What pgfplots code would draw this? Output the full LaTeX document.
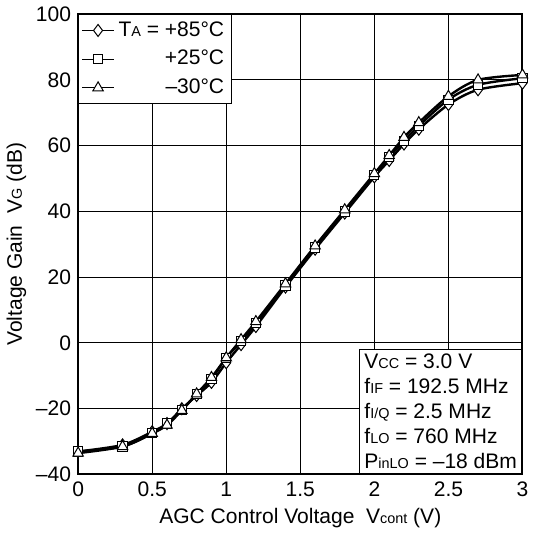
\documentclass[border=0pt]{standalone}
\usepackage{fontspec}
\setmainfont{Liberation Sans}
\usepackage{pgfplots}
\pgfplotsset{compat=1.18}
\newcommand{\sub}[1]{{\fontsize{7.2}{7.2}\selectfont #1}}

\begin{document}
\begin{tikzpicture}[font=\fontsize{10.5}{12}\selectfont]
\begin{axis}[
    scale only axis, width=222pt, height=230pt,
    xmin=0, xmax=3, ymin=-40, ymax=100,
    xtick={0,0.5,1,1.5,2,2.5,3},
    xticklabels={0,0.5,1,1.5,2,2.5,3},
    ytick={-40,-20,0,20,40,60,80,100},
    yticklabels={–40,–20,0,20,40,60,80,100},
    grid=major, major grid style={black, line width=0.5pt},
    axis line style={line width=1pt},
    tick style={draw=none},
    xlabel={AGC Control Voltage\ \ V\sub{cont} (V)},
    ylabel={Voltage Gain\ \ V\sub{G} (dB)},
    xlabel style={yshift=1pt},
    ylabel style={yshift=-2pt},
    legend style={at={(0,1)}, anchor=north west, draw=black, line width=0.5pt,
        fill=white, font=\fontsize{10.5}{12}\selectfont, row sep=1.5pt,
        inner sep=1.5pt},
    legend cell align=right,
    legend image code/.code={\draw[mark repeat=2, mark phase=2, line width=0.5pt]
        plot coordinates {(0cm,0cm) (0.28cm,0cm) (0.56cm,0cm)};},
]
% T_A = +85 C
\addplot[black, line width=1.2pt, smooth, mark=diamond*, mark size=3pt,
    mark options={fill=white, draw=black, line width=0.5pt, solid}] coordinates {
 (0,-33) (0.3,-31) (0.5,-27) (0.6,-24.5) (0.7,-20) (0.8,-16) (0.9,-12)
 (1.0,-6) (1.1,-0.5) (1.2,5) (1.4,17) (1.6,28.5) (1.8,39.5) (2.0,50.5)
 (2.1,55.5) (2.2,60.5) (2.3,65) (2.5,72.5) (2.7,77) (3.0,79)};
% T_A = +25 C
\addplot[black, line width=1.2pt, smooth, mark=square*, mark size=2.3pt,
    mark options={fill=white, draw=black, line width=0.5pt, solid}] coordinates {
 (0,-33) (0.3,-31.5) (0.5,-27.5) (0.6,-24.5) (0.7,-20.5) (0.8,-15.5) (0.9,-11)
 (1.0,-4.5) (1.1,0.5) (1.2,6) (1.4,17.5) (1.6,29) (1.8,40) (2.0,51)
 (2.1,56.5) (2.2,61.5) (2.3,66) (2.5,74) (2.7,78.5) (3.0,80.5)};
% T_A = -30 C
\addplot[black, line width=1.2pt, smooth, mark=triangle*, mark size=3pt,
    mark options={fill=white, draw=black, line width=0.5pt, solid}] coordinates {
 (0,-33.5) (0.3,-31.5) (0.5,-27.5) (0.6,-25) (0.7,-20.5) (0.8,-15.5) (0.9,-10.5)
 (1.0,-4.5) (1.1,1) (1.2,6.5) (1.4,18) (1.6,29.5) (1.8,40.5) (2.0,51.5)
 (2.1,57) (2.2,62.5) (2.3,67) (2.5,75) (2.7,80) (3.0,81.5)};
\legend{T\sub{A} = +85°C, +25°C, –30°C}
\node[draw=black, line width=0.5pt, fill=white, anchor=south east, align=left,
      inner sep=2.5pt, font=\fontsize{10.5}{12.5}\selectfont]
  at (rel axis cs:1,0) {V\sub{CC} = 3.0 V\\ f\sub{IF} = 192.5 MHz\\ f\sub{I/Q} = 2.5 MHz\\
  f\sub{LO} = 760 MHz\\ P\sub{inLO} = –18 dBm};
\end{axis}
\end{tikzpicture}
\end{document}
